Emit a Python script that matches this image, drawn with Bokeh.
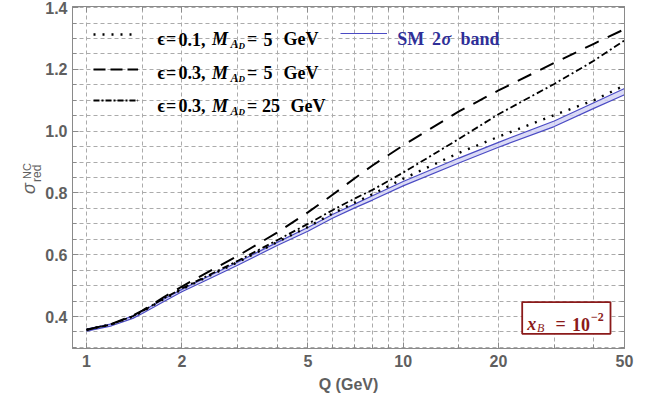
from bokeh.plotting import figure
from bokeh.models import (FixedTicker, LogAxis, LinearAxis, Legend, LegendItem, Label,
                          BoxAnnotation, Range1d, NumeralTickFormatter)
from bokeh.embed import file_html
from bokeh.resources import INLINE
import math

# ---------------- data ----------------
Q = [1, 1.2, 1.4, 1.5, 1.75, 2, 2.5, 3, 4, 5, 6, 7, 8, 10, 15, 20, 30, 40, 50]
sm_lower = [0.353, 0.370, 0.394, 0.410, 0.448, 0.480, 0.527, 0.566, 0.630, 0.676, 0.719,
            0.751, 0.777, 0.823, 0.897, 0.948, 1.015, 1.074, 1.118]
sm_upper = [0.359, 0.376, 0.402, 0.417, 0.456, 0.488, 0.537, 0.576, 0.640, 0.688, 0.731,
            0.763, 0.791, 0.837, 0.913, 0.964, 1.033, 1.092, 1.138]
eps01_m5 = [0.357, 0.375, 0.400, 0.416, 0.456, 0.488, 0.537, 0.576, 0.641, 0.690, 0.734,
            0.768, 0.796, 0.846, 0.930, 0.982, 1.052, 1.100, 1.148]
eps03_m5 = [0.357, 0.376, 0.403, 0.419, 0.462, 0.497, 0.552, 0.596, 0.672, 0.737, 0.795,
            0.846, 0.889, 0.954, 1.064, 1.132, 1.221, 1.283, 1.330]
eps03_m25 = [0.357, 0.375, 0.401, 0.417, 0.458, 0.491, 0.540, 0.580, 0.647, 0.700, 0.745,
             0.781, 0.810, 0.866, 0.975, 1.055, 1.153, 1.228, 1.294]

x_major = [1, 2, 5, 10, 20, 50]
x_minor = [1.5, 3, 4, 6, 7, 8, 9, 15, 30, 40]
y_major = [0.4, 0.6, 0.8, 1.0, 1.2, 1.4]
y_minor = [0.3, 0.35, 0.45, 0.5, 0.55, 0.65, 0.7, 0.75, 0.85, 0.9, 0.95,
           1.05, 1.1, 1.15, 1.25, 1.3, 1.35]

# ---------------- styles ----------------
AX = "#8a8a8a"
TXT = "#5f5f5f"
GRID = "#ababab"
BAND_LINE = "#4b4bc4"
BAND_FILL = "#d2d2f4"
SM_TXT = "#2f2f98"
RED = "#8b1a1a"
SERIF = "Liberation Serif"
SANS = "Liberation Sans"

W, H = 652, 407
ML, MR, MT, MB = 72, 28, 6, 59
FB = H - MB      # frame bottom (canvas px == image px)
FL = ML          # frame left

p = figure(width=W, height=H, x_axis_type="log",
           x_range=Range1d(0.903, 50), y_range=Range1d(0.2965, 1.4037),
           output_backend="svg", toolbar_location=None,
           min_border_left=ML, min_border_right=MR, min_border_top=MT, min_border_bottom=MB)
p.outline_line_color = AX

xt = FixedTicker(ticks=x_major, minor_ticks=x_minor)
yt = FixedTicker(ticks=y_major, minor_ticks=y_minor)

def style_axis(ax, labels=True):
    ax.axis_line_color = AX
    ax.major_tick_line_color = AX
    ax.minor_tick_line_color = AX
    ax.major_tick_in = 6
    ax.major_tick_out = 0
    ax.minor_tick_in = 4
    ax.minor_tick_out = 0
    if labels:
        ax.major_label_text_font = SANS
        ax.major_label_text_font_style = "bold"
        ax.major_label_text_font_size = "16px"
        ax.major_label_text_color = TXT
    else:
        ax.major_label_text_font_size = "1px"
        ax.major_label_text_color = None
        ax.major_label_standoff = 0

xa = p.xaxis[0]
xa.ticker = xt
xa.formatter = NumeralTickFormatter(format="0")
style_axis(xa)
xa.major_label_standoff = 6
xa.axis_label = "Q (GeV)"
xa.axis_label_text_font = SANS
xa.axis_label_text_font_style = "bold"
xa.axis_label_text_font_size = "16px"
xa.axis_label_text_color = TXT
xa.axis_label_standoff = 6

ya = p.yaxis[0]
ya.ticker = yt
ya.formatter = NumeralTickFormatter(format="0.0")
style_axis(ya)
ya.major_label_standoff = 5

top = LogAxis(ticker=xt)
style_axis(top, labels=False)
p.add_layout(top, "above")
right = LinearAxis(ticker=yt)
style_axis(right, labels=False)
p.add_layout(right, "right")

for g in (p.xgrid[0], p.ygrid[0]):
    g.ticker = xt if g.dimension == 0 else yt
    g.grid_line_color = GRID
    g.grid_line_width = 1
    g.grid_line_dash = "4 3"
    g.minor_grid_line_color = GRID
    g.minor_grid_line_width = 1
    g.minor_grid_line_dash = "4 3"

# ---------------- curves ----------------
p.varea(x=Q, y1=sm_lower, y2=sm_upper, fill_color=BAND_FILL, fill_alpha=0.8)
r_sm = p.line(Q, sm_upper, line_color=BAND_LINE, line_width=1.2)
p.line(Q, sm_lower, line_color=BAND_LINE, line_width=1.2)
r_dot = p.line(Q, eps01_m5, line_color="black", line_width=2.4, line_dash="2 7")
p.line(Q, eps03_m5, line_color="black", line_width=2, line_dash="15 10")
p.line(Q, eps03_m25, line_color="black", line_width=1.8, line_dash="7 3 2 3")

# hidden copies used only as legend samples (legend dashes drawn at a smaller scale)
lg_dash = p.line(Q, eps03_m5, line_color="black", line_width=2, line_dash="12 5", visible=False)
lg_dd = p.line(Q, eps03_m25, line_color="black", line_width=1.8, line_dash="6 2 2 2", visible=False)

# ---------------- legends (sample glyphs) ----------------
def add_legend(r, ix, iy_center, gw):
    lg = Legend(items=[LegendItem(label=" ", renderers=[r])],
                location=(ix - FL, FB - (iy_center + 10)),
                glyph_width=gw, glyph_height=20, label_height=20, label_width=1,
                label_standoff=0, spacing=0, padding=0, margin=0,
                border_line_color=None, background_fill_alpha=0,
                inactive_fill_alpha=0,
                label_text_font_size="1px", label_text_color=None)
    p.add_layout(lg)

add_legend(r_dot, 93, 33.5, 45)
add_legend(lg_dash, 93, 69, 45)
add_legend(lg_dd, 93, 100, 45)
add_legend(r_sm, 340, 32.5, 47)

# ---------------- text annotations (inside the frame) ----------------
def lab(text, ix, iy, size, style="bold", color="black", font=SERIF):
    p.add_layout(Label(x=ix - FL, y=FB - iy, x_units="screen", y_units="screen",
                       text=text, text_font=font, text_font_size=f"{size}px",
                       text_font_style=style, text_color=color,
                       text_align="left", text_baseline="alphabetic"))

rows = [("ϵ", "0.1,", "5", 263.0, 283.0, 38.5),
        ("ϵ", "0.3,", "5", 263.0, 283.0, 72.0),
        ("ϵ", "0.3,", "25", 261.5, 290.0, 105.0)]
for eps, val, mass, xm, xg, base in rows:
    lab(eps, 157, base, 18)
    lab("=", 165.5, base, 18)
    lab(val, 178, base, 18)
    lab("M", 211.5, base, 18, style="bold italic")
    lab("A", 230, base + 5, 12, style="bold italic")
    lab("D", 238, base + 6.7, 9, style="bold italic")
    lab("=", 246.5, base, 18)
    lab(mass, xm, base, 18)
    lab("GeV", xg, base, 18)

lab("SM", 396.7, 38.3, 18, color=SM_TXT)
lab("2", 431.5, 38.3, 18, color=SM_TXT)
lab("σ", 441, 38.3, 18, style="bold italic", color=SM_TXT)
lab("band", 460, 38.3, 18, color=SM_TXT)

# x_B box
p.add_layout(BoxAnnotation(left=521.7 - FL, right=610 - FL, top=FB - 301.7, bottom=FB - 333.3,
                           left_units="screen", right_units="screen",
                           top_units="screen", bottom_units="screen",
                           fill_color="white", fill_alpha=1.0,
                           line_color=RED, line_alpha=1.0, line_width=1.8))
lab("x", 526.7, 323.5, 18, style="bold italic", color=RED)
lab("B", 536.5, 327.5, 12, style="italic", color=RED)
lab("=", 555, 323.5, 18, color=RED)
lab("10", 571.5, 323.5, 18, color=RED)
lab("−2", 590.5, 316.5, 12, color=RED)

# ---------------- y-axis label sigma^NC_red (rotated, in side panels) ----------------
def side_lab(text, ix, iy, size, style, side):
    p.add_layout(Label(x=ix, y=iy, x_units="canvas", y_units="canvas",
                       text=text, text_font=SANS, text_font_size=f"{size}px",
                       text_font_style=style, text_color=TXT, angle=math.pi / 2,
                       text_align="left", text_baseline="alphabetic"), side)

side_lab("σ", 28.5, 193.5, 18, "italic", "left")
side_lab("NC", 26, 178.5, 11, "normal", "left")
side_lab("red", 36, 181.5, 12, "normal", "right")

open("out.html", "w").write(file_html(p, INLINE))
